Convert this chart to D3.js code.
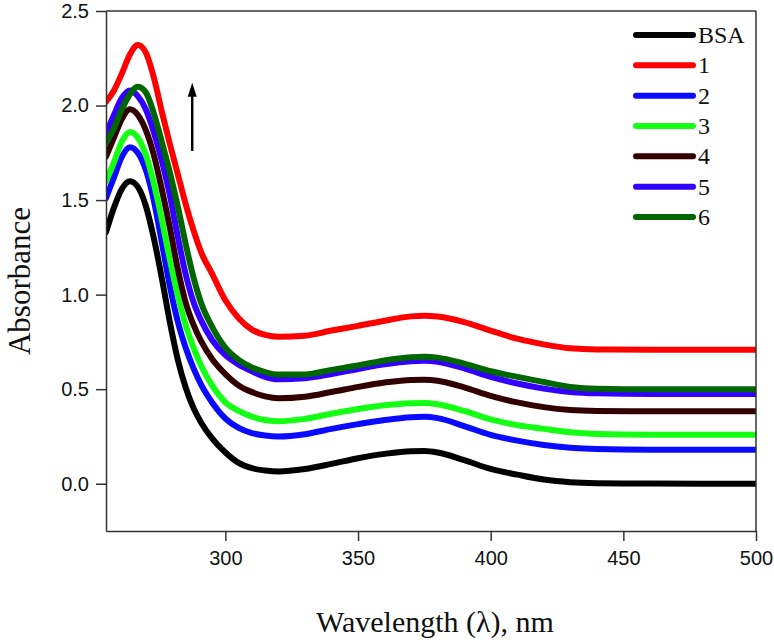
<!DOCTYPE html>
<html>
<head>
<meta charset="utf-8">
<script src="https://cdn.jsdelivr.net/npm/d3@7"></script>
<style>
  html, body { margin: 0; padding: 0; background: #fff; }
  svg { display: block; }
</style>
</head>
<body>
<svg id="chart" width="774" height="642"></svg>
<script>
// ---- data ----
const wavelengths = [255, 258, 261, 264, 267, 270, 273, 276, 279, 282, 285, 288, 291, 295, 300, 305, 310, 315, 320, 330, 340, 350, 360, 370, 375, 380, 390, 400, 410, 420, 430, 440, 460, 480, 500];

const seriesNames = ["BSA", "1", "2", "3", "4", "5", "6"];
const seriesColors = ["#000000", "#ff0000", "#0a0aff", "#14ff14", "#330000", "#3300ff", "#006600"];

const bsa = [1.33, 1.46, 1.56, 1.60, 1.57, 1.47, 1.30, 1.09, 0.86, 0.66, 0.51, 0.40, 0.32, 0.24, 0.165, 0.11, 0.082, 0.07, 0.065, 0.078, 0.105, 0.135, 0.158, 0.172, 0.173, 0.165, 0.125, 0.078, 0.048, 0.022, 0.008, 0.003, 0.001, 0.0, 0.0];
const s1 = [2.02, 2.08, 2.17, 2.27, 2.32, 2.28, 2.15, 1.97, 1.80, 1.64, 1.48, 1.34, 1.22, 1.11, 0.97, 0.875, 0.815, 0.787, 0.777, 0.783, 0.81, 0.835, 0.862, 0.885, 0.889, 0.884, 0.855, 0.81, 0.767, 0.737, 0.716, 0.71, 0.709, 0.709, 0.709];
const s2 = [1.51, 1.62, 1.73, 1.78, 1.75, 1.66, 1.50, 1.28, 1.05, 0.86, 0.72, 0.61, 0.52, 0.43, 0.345, 0.295, 0.268, 0.255, 0.25, 0.262, 0.29, 0.315, 0.337, 0.352, 0.354, 0.347, 0.305, 0.258, 0.228, 0.205, 0.19, 0.183, 0.18, 0.18, 0.18];
const s3 = [1.60, 1.70, 1.81, 1.86, 1.83, 1.74, 1.59, 1.40, 1.19, 1.00, 0.84, 0.72, 0.62, 0.52, 0.43, 0.385, 0.355, 0.337, 0.33, 0.343, 0.37, 0.395, 0.415, 0.426, 0.427, 0.42, 0.385, 0.34, 0.31, 0.29, 0.272, 0.263, 0.259, 0.259, 0.259];
const s4 = [1.73, 1.83, 1.93, 1.98, 1.95, 1.87, 1.74, 1.56, 1.36, 1.14, 0.96, 0.84, 0.75, 0.66, 0.58, 0.52, 0.485, 0.462, 0.452, 0.46, 0.485, 0.512, 0.535, 0.549, 0.55, 0.545, 0.51, 0.465, 0.43, 0.405, 0.39, 0.385, 0.383, 0.383, 0.383];
const s5 = [1.85, 1.95, 2.04, 2.08, 2.05, 1.98, 1.86, 1.71, 1.53, 1.31, 1.11, 0.96, 0.86, 0.76, 0.68, 0.63, 0.595, 0.565, 0.552, 0.558, 0.58, 0.607, 0.632, 0.648, 0.65, 0.645, 0.61, 0.565, 0.53, 0.503, 0.485, 0.478, 0.475, 0.475, 0.475];
const s6 = [1.80, 1.88, 1.98, 2.06, 2.10, 2.07, 1.96, 1.81, 1.65, 1.47, 1.27, 1.09, 0.95, 0.83, 0.72, 0.655, 0.615, 0.59, 0.577, 0.578, 0.602, 0.625, 0.652, 0.669, 0.672, 0.667, 0.635, 0.595, 0.565, 0.538, 0.512, 0.502, 0.499, 0.499, 0.499];

const seriesValues = [bsa, s1, s2, s3, s4, s5, s6];

const xTicks = [300, 350, 400, 450, 500];
const yTicks = [0.0, 0.5, 1.0, 1.5, 2.0, 2.5];
const xDomain = [255, 500];
const yDomain = [-0.25, 2.5];
const xTitle = "Wavelength (\u03BB), nm";
const yTitle = "Absorbance";
// arrow annotation (wavelength, absorbance from / to)
const arrowAt = { w: 287.5, from: 1.76, to: 2.12 };

// ---- layout ----
const svg = d3.select("#chart");
const margin = { left: 106, top: 11, right: 18, bottom: 111 };
const W = 774, H = 642;
const iw = W - margin.left - margin.right;  // 650
const ih = H - margin.top - margin.bottom;  // 520

const x = d3.scaleLinear().domain(xDomain).range([0, iw]);
const y = d3.scaleLinear().domain(yDomain).range([ih, 0]);

const defs = svg.append("defs");
const g = svg.append("g").attr("transform", `translate(${margin.left},${margin.top})`);

const frameColor = "#333";

// curves
defs.append("clipPath").attr("id", "plotclip")
  .append("rect").attr("x", 0).attr("y", -10).attr("width", iw).attr("height", ih + 10);

const line = d3.line()
  .x(d => x(d[0]))
  .y(d => y(d[1]))
  .curve(d3.curveMonotoneX);

const curves = g.append("g").attr("clip-path", "url(#plotclip)");
seriesValues.forEach((vals, i) => {
  const pts = wavelengths.map((w, j) => [w, vals[j]]);
  curves.append("path")
    .attr("d", line(pts))
    .attr("fill", "none")
    .attr("stroke", seriesColors[i])
    .attr("stroke-width", 6)
    .attr("stroke-linejoin", "round")
    .attr("stroke-linecap", "round");
});

// axes
const xAxis = d3.axisBottom(x).tickValues(xTicks).tickSize(10).tickSizeOuter(0).tickPadding(6).tickFormat(d3.format("d"));
const yAxis = d3.axisLeft(y).tickValues(yTicks).tickSize(10).tickSizeOuter(0).tickPadding(7).tickFormat(d3.format(".1f"));

const gx = g.append("g").attr("transform", `translate(0,${ih})`).call(xAxis);
const gy = g.append("g").call(yAxis);
[gx, gy].forEach(a => {
  a.selectAll("path.domain").attr("stroke", frameColor).attr("stroke-width", 1.5);
  a.selectAll(".tick line").attr("stroke", frameColor).attr("stroke-width", 1.5);
  a.selectAll(".tick text")
    .attr("fill", "#111")
    .style("font-family", "'Liberation Sans', Arial, sans-serif")
    .style("font-size", "20px");
});
gx.selectAll(".tick text").attr("dy", "0.9em");

// top & right frame
g.append("line").attr("x1", 0).attr("x2", iw).attr("y1", 0).attr("y2", 0)
  .attr("stroke", frameColor).attr("stroke-width", 1.5);
g.append("line").attr("x1", iw).attr("x2", iw).attr("y1", 0).attr("y2", ih)
  .attr("stroke", frameColor).attr("stroke-width", 1.5);

// axis titles
svg.append("text")
  .attr("x", 435).attr("y", 632)
  .attr("text-anchor", "middle")
  .style("font-family", "'Liberation Serif', 'Times New Roman', serif")
  .style("font-size", "30px")
  .attr("fill", "#111")
  .text(xTitle);

svg.append("text")
  .attr("transform", "translate(30,281) rotate(-90)")
  .attr("text-anchor", "middle")
  .style("font-family", "'Liberation Serif', 'Times New Roman', serif")
  .style("font-size", "31px")
  .attr("fill", "#111")
  .text(yTitle);

// legend
const legend = svg.append("g");
const legendRowY = d3.scalePoint().domain(seriesNames).range([35, 217]);
seriesNames.forEach((name, i) => {
  const cy = legendRowY(name);
  legend.append("line")
    .attr("x1", 636).attr("x2", 693).attr("y1", cy).attr("y2", cy)
    .attr("stroke", seriesColors[i]).attr("stroke-width", 6).attr("stroke-linecap", "round");
  legend.append("text")
    .attr("x", 698).attr("y", cy + 8)
    .style("font-family", "'Liberation Serif', 'Times New Roman', serif")
    .style("font-size", "24px")
    .attr("fill", "#111")
    .text(name);
});

// arrow
const ax = x(arrowAt.w), ay0 = y(arrowAt.from), ay1 = y(arrowAt.to);
const headLen = 14, headHalf = 4.5;
g.append("line")
  .attr("x1", ax).attr("y1", ay0).attr("x2", ax).attr("y2", ay1 + headLen - 1)
  .attr("stroke", "#000").attr("stroke-width", 2.4);
g.append("path")
  .attr("d", `M${ax},${ay1} L${ax - headHalf},${ay1 + headLen} L${ax + headHalf},${ay1 + headLen} Z`)
  .attr("fill", "#000");
</script>
</body>
</html>
